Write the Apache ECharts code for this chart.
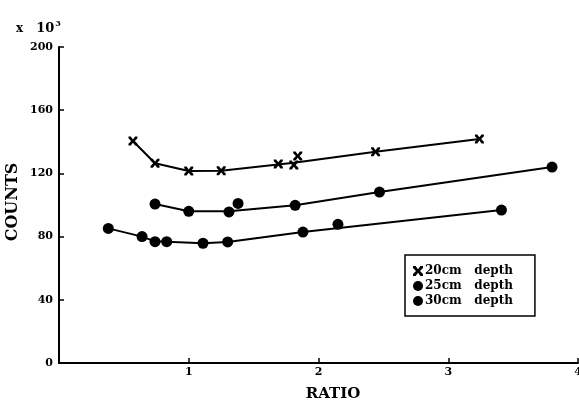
<!DOCTYPE html>
<html>
<head>
<meta charset="utf-8">
<script src="https://cdn.jsdelivr.net/npm/echarts@6/dist/echarts.min.js"></script>
<style>
  html, body { margin: 0; padding: 0; background: #fff; }
  #main { width: 579px; height: 402px; }
</style>
</head>
<body>
<div id="main"></div>
<script>
// measured points (ratio, counts x 10^3)
var ratio20 = [0.57, 0.74, 1.0, 1.25, 1.69, 1.81, 1.84, 2.44, 3.24];
var counts20 = [140.5, 126.4, 121.5, 121.7, 126.0, 125.3, 131.0, 133.7, 141.8];
var ratio25 = [0.74, 1.0, 1.31, 1.38, 1.82, 2.47, 3.80];
var counts25 = [100.6, 96.0, 95.6, 101.0, 99.8, 108.2, 124.0];
var ratio30 = [0.38, 0.64, 0.74, 0.83, 1.11, 1.30, 1.88, 2.15, 3.41];
var counts30 = [85.2, 80.0, 76.8, 76.8, 75.8, 76.6, 82.9, 87.8, 96.8];

// fitted curves drawn through the points
var curveRatio20 = [0.57, 0.74, 1.0, 1.25, 1.81, 2.44, 3.24];
var curveCounts20 = [140.5, 126.4, 121.5, 121.7, 126.8, 133.7, 141.8];
var curveRatio25 = [0.74, 1.0, 1.31, 1.82, 2.47, 3.80];
var curveCounts25 = [100.6, 96.0, 96.0, 99.8, 108.2, 124.0];
var curveRatio30 = [0.38, 0.64, 0.74, 1.11, 1.30, 1.88, 3.41];
var curveCounts30 = [85.2, 80.0, 77.0, 75.8, 76.6, 82.9, 96.8];

var names = ['20cm   depth', '25cm   depth', '30cm   depth'];
var xRange = [0, 4];
var yRange = [0, 200];

function zip(a, b) {
    var d = [];
    a.forEach(function(v, i) { d.push([v, b[i]]); });
    return d;
}

var FONT = '"DejaVu Serif", "Liberation Serif", serif';
var crossPath = 'path://M0,0 L2.6,0 L5,3.2 L7.4,0 L10,0 L10,2 L7,5 L10,8 L10,10 L7.4,10 L5,6.8 L2.6,10 L0,10 L0,8 L3,5 L0,2 Z';

function curve(data) {
    return {
        type: 'line',
        data: data,
        symbol: 'none',
        silent: true,
        lineStyle: { color: '#000', width: 2 },
        z: 2
    };
}

var myChart = echarts.init(document.getElementById('main'));
var option = {
    backgroundColor: '#fff',
    animation: false,
    title: {
        text: '{a|x}{c|10}{b|3}',
        left: 11,
        top: 15,
        textStyle: {
            rich: {
                a: { fontFamily: FONT, fontWeight: 'bold', fontSize: 12, color: '#000', padding: [0, 13, 0, 0] },
                c: { fontFamily: FONT, fontWeight: 'bold', fontSize: 13, color: '#000' },
                b: { fontFamily: FONT, fontWeight: 'bold', fontSize: 8, color: '#000', padding: [0, 0, 10, 1] }
            }
        }
    },
    legend: {
        data: names,
        orient: 'vertical',
        left: 405,
        top: 255,
        padding: [10, 22, 9, 8],
        itemGap: 3,
        itemWidth: 10,
        itemHeight: 11,
        borderColor: '#000',
        borderWidth: 1.5,
        borderRadius: 0,
        textStyle: { fontFamily: FONT, fontWeight: 'bold', fontSize: 12, color: '#000', padding: [0, 0, 0, -3] }
    },
    grid: {
        left: 59,
        right: 1,
        top: 47,
        bottom: 39,
        outerBoundsMode: 'none',
        containLabel: false
    },
    xAxis: {
        type: 'value',
        min: xRange[0],
        max: xRange[1],
        interval: 1,
        name: 'RATIO',
        nameLocation: 'middle',
        nameGap: 24,
        nameTextStyle: { fontFamily: FONT, fontWeight: 'bold', fontSize: 15, color: '#000', padding: [0, 0, 0, 29] },
        splitLine: { show: false },
        axisLine: { lineStyle: { color: '#000', width: 2 } },
        axisTick: { inside: true, length: 5, lineStyle: { color: '#000', width: 1.5 } },
        axisLabel: {
            margin: 4,
            showMinLabel: false,
            fontFamily: FONT, fontWeight: 'bold', fontSize: 11, color: '#000'
        }
    },
    yAxis: {
        type: 'value',
        min: yRange[0],
        max: yRange[1],
        interval: 40,
        name: 'COUNTS',
        nameLocation: 'middle',
        nameGap: 38,
        nameMoveOverlap: false,
        nameRotate: 90,
        nameTextStyle: { fontFamily: FONT, fontWeight: 'bold', fontSize: 16, color: '#000', padding: [0, 0, 0, 6] },
        splitLine: { show: false },
        axisLine: { show: true, lineStyle: { color: '#000', width: 2 } },
        axisTick: { show: true, inside: true, length: 5, lineStyle: { color: '#000', width: 1.5 } },
        axisLabel: { margin: 6, fontFamily: FONT, fontWeight: 'bold', fontSize: 11, color: '#000' }
    },
    series: [
        curve(zip(curveRatio20, curveCounts20)),
        curve(zip(curveRatio25, curveCounts25)),
        curve(zip(curveRatio30, curveCounts30)),
        {
            name: names[0],
            type: 'scatter',
            data: zip(ratio20, counts20),
            symbol: crossPath,
            symbolSize: 9,
            itemStyle: { color: '#000', opacity: 1 },
            z: 3
        },
        {
            name: names[1],
            type: 'scatter',
            data: zip(ratio25, counts25),
            symbol: 'circle',
            symbolSize: 11,
            itemStyle: { color: '#000', opacity: 1 },
            z: 3
        },
        {
            name: names[2],
            type: 'scatter',
            data: zip(ratio30, counts30),
            symbol: 'circle',
            symbolSize: 11,
            itemStyle: { color: '#000', opacity: 1 },
            z: 3
        }
    ]
};

myChart.setOption(option);
</script>
</body>
</html>
